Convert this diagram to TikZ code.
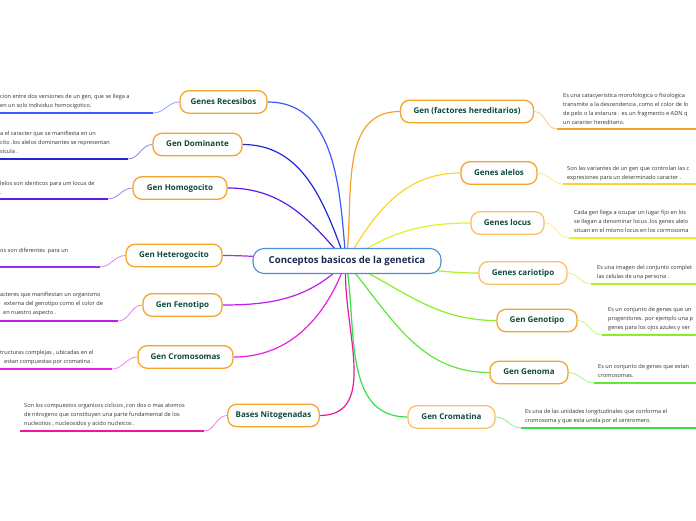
\documentclass[tikz,border=0pt]{standalone}
\usepackage{fontspec}
\setmainfont{Open Sans}
\usetikzlibrary{backgrounds}
\definecolor{orB}{HTML}{F7A42C}
\definecolor{orL}{HTML}{FBC06A}
\definecolor{txG}{HTML}{0D4A3A}
\definecolor{txN}{HTML}{1B2A4E}
\definecolor{rootB}{HTML}{4A8FD6}
\definecolor{cRec}{HTML}{3A5BFF}
\definecolor{cDom}{HTML}{2028D8}
\definecolor{cHom}{HTML}{5A1EE8}
\definecolor{cHet}{HTML}{9B30F0}
\definecolor{cFen}{HTML}{C21BE8}
\definecolor{cCro}{HTML}{E81EE0}
\definecolor{cBas}{HTML}{E8199E}
\definecolor{cFac}{HTML}{F7A02A}
\definecolor{cAle}{HTML}{FFD42A}
\definecolor{cLoc}{HTML}{E6F02A}
\definecolor{cCar}{HTML}{B4EE2A}
\definecolor{cGnt}{HTML}{8AEE2A}
\definecolor{cGnm}{HTML}{5EE83A}
\definecolor{cCrm}{HTML}{33E04A}
\newcommand{\fl}{\rule{0pt}{5pt}}
\tikzset{
  topic/.style={draw=orB, line width=1.3pt, rounded corners=9pt, fill=white,
    font=\bfseries\fontsize{8}{9}\selectfont, text=txG, minimum height=22.5pt,
    inner xsep=8pt, text height=6pt, text depth=1.6pt},
  root/.style={draw=rootB, line width=1.1pt, rounded corners=11pt, fill=white,
    font=\bfseries\fontsize{9.6}{11}\selectfont, text=txN, minimum height=25pt,
    minimum width=188pt, text height=7pt, text depth=2pt},
  desctext/.style={font=\fontsize{5.6}{9}\selectfont, text=black!80, align=left,
    inner sep=0pt, anchor=north west},
  branch/.style={line width=1.2pt},
  uline/.style={line width=1.8pt},
  twig/.style={line width=0.8pt}
}
\begin{document}
\begin{tikzpicture}[x=1pt,y=-1pt]
\useasboundingbox (0,0) rectangle (696,520);
\clip (0,0) rectangle (696,520);

% root
\node[root] (root) at (347,261) {Conceptos basicos de la genetica};
\coordinate (C) at (346,262);

% left topics
\node[topic, minimum width=87pt] (rec) at (223.5,102) {Genes Recesibos};
\node[topic, minimum width=89pt] (dom) at (197.5,144.5) {Gen Dominante};
\node[topic, minimum width=94pt] (hom) at (180,188) {Gen Homogocito};
\node[topic, minimum width=96pt] (het) at (174,255.5) {Gen Heterogocito};
\node[topic, minimum width=79pt] (fen) at (182.5,305) {Gen Fenotipo};
\node[topic, minimum width=95pt] (cro) at (185.5,357) {Gen Cromosomas};
\node[topic, minimum width=89pt] (bas) at (273.5,415.5) {Bases Nitogenadas};

% right topics
\node[topic, minimum width=133pt] (fac) at (467,111.5) {Gen (factores hereditarios)};
\node[topic, minimum width=76pt] (ale) at (499,173) {Genes alelos};
\node[topic, draw=orL, minimum width=73pt] (loc) at (507.5,223) {Genes locus};
\node[topic, draw=orL, minimum width=88pt] (car) at (523,273) {Genes cariotipo};
\node[topic, minimum width=80pt] (gnt) at (537,320.5) {Gen Genotipo};
\node[topic, minimum width=78pt] (gnm) at (529,372.5) {Gen Genoma};
\node[topic, draw=orL, minimum width=87pt] (crm) at (451.5,417) {Gen Cromatina};

% descriptions left
\node[desctext] (dRec) at (0,93.5) {\fl cion entre dos versiones de un gen, que se llega a\\en un solo individuo homocigotico.};
\node[desctext] (dDom) at (0,130.5) {\fl a el caracter que se manifiesta en un\\cito .los alelos dominantes se representan\\sicula .};
\node[desctext] (dHom) at (0,180.5) {\fl lelos son identicos para um locus de\\.};
\node[desctext] (dHet) at (0,247.5) {\fl os son diferentes \ para un};
\node[desctext] (dFen) at (0,291.5) {\fl acteres que manifiestan un organismo\\\hspace{4pt}externa del genotipo como el color de\\\hspace{3pt}en nuestro aspecto .};
\node[desctext] (dCro) at (0,349.5) {\fl tructuras complejas , ubicadas en el\\\hspace{4pt}estan compuestas por cromatina .};
\node[desctext] (dBas) at (24,402.5) {\fl Son los compuestos organicos ciclicos ,con dos o mas atomos\\de nitrogeno que constituyen una parte fundamental de los\\nucleotios , nucleosidos y acido nucleicos .};

% descriptions right
\node[desctext] (dFac) at (563,92.5) {\fl Es una catacyeristica morofologica o fisiologica\\transmite a la descendencia ,como el color de lo\\de pelo o la estarura . es un fragmento e ADN q\\un caracter hereditario.};
\node[desctext] (dAle) at (567,165.5) {\fl Son las variantes de un gen que controlan las c\\expresiones para un determinado caracter .};
\node[desctext] (dLoc) at (574,209.5) {\fl Cada gen llega a ocupar un lugar fijo en los\\se llegan a denominar locus .los genes alelo\\situan en el mismo locus en los cormosoma};
\node[desctext] (dCar) at (597,264.5) {\fl Es una imagen del conjunto complet\\las celulas de una persona .};
\node[desctext] (dGnt) at (608,306.5) {\fl Es un conjunto de genes que un\\progenitores. por ejemplo una p\\genes para los ojos azules y ver};
\node[desctext] (dGnm) at (598,363.5) {\fl Es un conjunto de genes que estan\\cromosomas.};
\node[desctext] (dCrm) at (525,408.5) {\fl Es una de las unidades longitudinales que conforma el\\cromosoma y que esta unida por el centromero.};

% underline coordinates
\coordinate (uRec) at (153,113);  \coordinate (eRec) at (0,113);
\coordinate (uDom) at (128,159);  \coordinate (eDom) at (0,159);
\coordinate (uHom) at (108,199);  \coordinate (eHom) at (0,199);
\coordinate (uHet) at (100,267);  \coordinate (eHet) at (0,267);
\coordinate (uFen) at (118,321);  \coordinate (eFen) at (0,321);
\coordinate (uCro) at (112,369);  \coordinate (eCro) at (0,369);
\coordinate (uBas) at (204,431);  \coordinate (eBas) at (20,431);
\coordinate (uFac) at (557,129);  \coordinate (eFac) at (696,129);
\coordinate (uAle) at (563,184);  \coordinate (eAle) at (696,184);
\coordinate (uLoc) at (569,238);  \coordinate (eLoc) at (696,238);
\coordinate (uCar) at (591,284);  \coordinate (eCar) at (696,284);
\coordinate (uGnt) at (602,335);  \coordinate (eGnt) at (696,335);
\coordinate (uGnm) at (594,383);  \coordinate (eGnm) at (696,383);
\coordinate (uCrm) at (521,428);  \coordinate (eCrm) at (696,428);

\begin{scope}[on background layer]
\fill[white] (0,0) rectangle (696,520);
% main branches
\draw[branch, cRec] (C) to[out=95,in=0] (rec.east);
\draw[branch, cDom] (C) to[out=110,in=0] (dom.east);
\draw[branch, cHom] (C) to[out=130,in=0] (hom.east);
\draw[branch, cHet] (C) to[out=180,in=0] (het.east);
\draw[branch, cFen] (C) to[out=225,in=0] (fen.east);
\draw[branch, cCro] (C) to[out=250,in=0] (cro.east);
\draw[branch, cBas] (C) to[out=265,in=0] (bas.east);
\draw[branch, cFac] (C) to[out=82,in=180] (fac.west);
\draw[branch, cAle] (C) to[out=60,in=180] (ale.west);
\draw[branch, cLoc] (C) to[out=35,in=180] (loc.west);
\draw[branch, cCar] (C) to[out=0,in=180] (car.west);
\draw[branch, cGnt] (C) to[out=-25,in=180] (gnt.west);
\draw[branch, cGnm] (C) to[out=-50,in=180] (gnm.west);
\draw[branch, cCrm] (C) to[out=-80,in=180] (crm.west);
% twigs and underlines
\foreach \n/\c in {Rec/cRec,Dom/cDom,Hom/cHom,Het/cHet,Fen/cFen,Cro/cCro,Bas/cBas}{
  \draw[uline, \c] (u\n) -- (e\n);
}
\draw[twig, cRec!55] (rec.west) to[out=180,in=0] (uRec);
\draw[twig, cDom!55] (dom.west) to[out=180,in=0] (uDom);
\draw[twig, cHom!55] (hom.west) to[out=180,in=0] (uHom);
\draw[twig, cHet!55] (het.west) to[out=180,in=0] (uHet);
\draw[twig, cFen!55] (fen.west) to[out=180,in=0] (uFen);
\draw[twig, cCro!55] (cro.west) to[out=180,in=0] (uCro);
\draw[twig, cBas!55] (bas.west) to[out=180,in=0] (uBas);
\foreach \n/\c in {Fac/cFac,Ale/cAle,Loc/cLoc,Car/cCar,Gnt/cGnt,Gnm/cGnm,Crm/cCrm}{
  \draw[uline, \c] (u\n) -- (e\n);
}
\draw[twig, cFac!55] (fac.east) to[out=0,in=180] (uFac);
\draw[twig, cAle!55] (ale.east) to[out=0,in=180] (uAle);
\draw[twig, cLoc!55] (loc.east) to[out=0,in=180] (uLoc);
\draw[twig, cCar!55] (car.east) to[out=0,in=180] (uCar);
\draw[twig, cGnt!55] (gnt.east) to[out=0,in=180] (uGnt);
\draw[twig, cGnm!55] (gnm.east) to[out=0,in=180] (uGnm);
\draw[twig, cCrm!55] (crm.east) to[out=0,in=180] (uCrm);
\end{scope}
\end{tikzpicture}
\end{document}
